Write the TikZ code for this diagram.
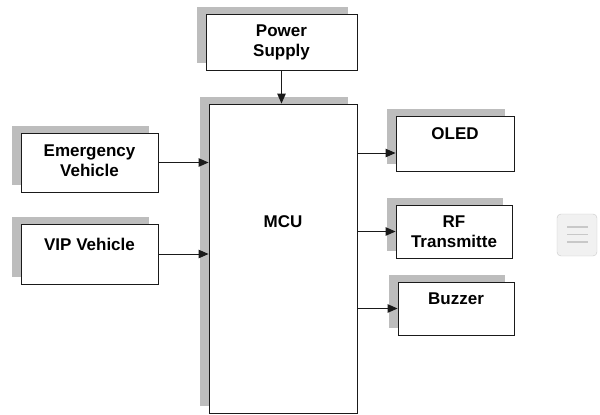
\documentclass[tikz,border=0pt]{standalone}
\usepackage{fontspec}
\setmainfont{Liberation Sans}
\usetikzlibrary{positioning,calc,arrows.meta,shadows}
\definecolor{ink}{HTML}{1A1A1A}
\definecolor{shade}{HTML}{BDBDBD}
\definecolor{iconbg}{HTML}{F1F1F1}
\definecolor{iconln}{HTML}{C8C8C8}

\begin{document}
\begin{tikzpicture}[x=1pt,y=-1pt,
        blk/.style={draw=ink,fill=white,line width=0.9pt,align=center,
          font=\fontsize{17}{20}\selectfont\bfseries,inner sep=0pt,
          general shadow={fill=shade,shadow xshift=-9pt,shadow yshift=7pt}},
        link/.style={ink,line width=1pt,-{Triangle[length=10pt,width=8.5pt]}}]
        \useasboundingbox (0,0) rectangle (600,415);
        \node[blk,minimum width=151pt,minimum height=56pt] (ps) at (281.5,42) {Power\\Supply};
        \node[blk,minimum width=148pt,minimum height=309pt] (mcu) at (283,258.5) {\raisebox{31pt}[0pt][0pt]{MCU}};
        \node[blk,minimum width=137pt,minimum height=59pt] (ev) at (89.5,162.5) {\raisebox{3pt}{\begin{tabular}{@{}c@{}}Emergency\\Vehicle\end{tabular}}};
        \node[blk,minimum width=137pt,minimum height=60pt] (vip) at (89.5,254) {VIP Vehicle\\~};
        \node[blk,minimum width=118pt,minimum height=55pt] (oled) at (455,143.5) {OLED\\~};
        \node[blk,minimum width=116pt,minimum height=53pt] (rf) at (454,231.5) {RF\\Transmitte};
        \node[blk,minimum width=116pt,minimum height=53pt] (buz) at (456,308.5) {Buzzer\\~};
        \coordinate (oledin) at ([yshift=-9.5pt]oled.west);
        \draw[link] (ps) -- (ps.south |- mcu.north);
        \foreach \u in {ev,vip}
          \draw[link] (\u.east) -- (\u.east -| mcu.west);
        \foreach \w in {oledin,rf.west,buz.west}
          \draw[link] (mcu.east |- \w) -- (\w);
        % menu icon
        \draw[iconln,fill=iconbg,rounded corners=4pt] (557,214) rectangle (597,256);
        \foreach \y in {227,234.5,242}
          \draw[iconln,line width=1.2pt] (567,\y) -- (588,\y);
      \end{tikzpicture}
\end{document}
